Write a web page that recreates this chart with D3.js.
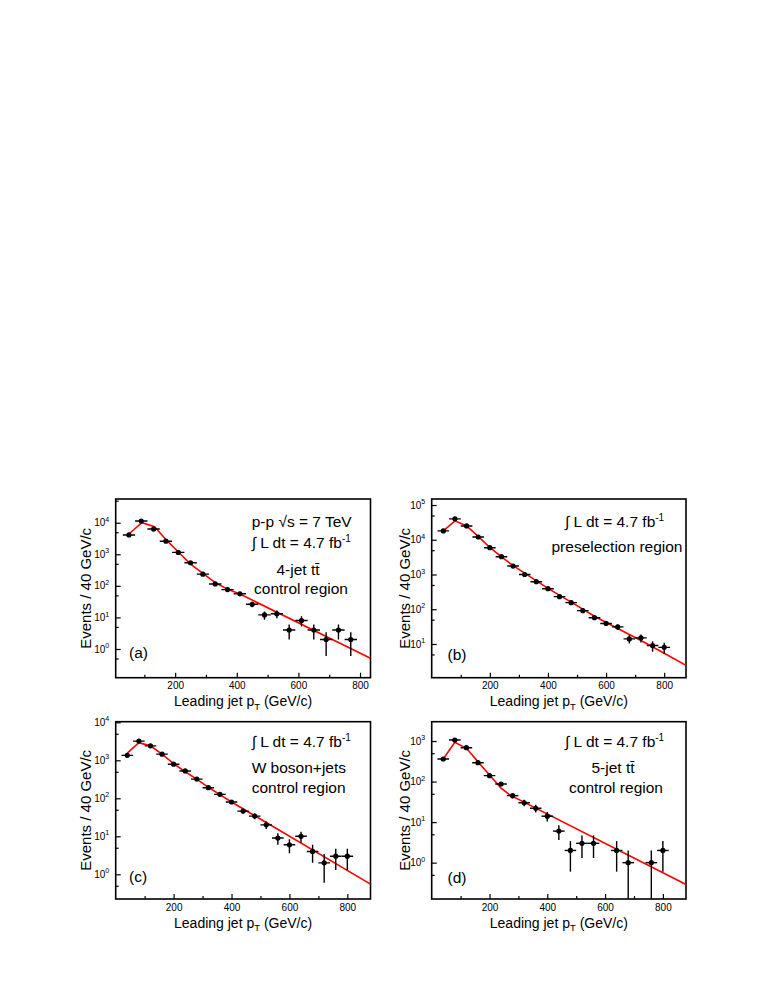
<!DOCTYPE html>
<html>
<head>
<meta charset="utf-8">
<script src="https://cdn.jsdelivr.net/npm/d3@7"></script>
<style>
  body { margin: 0; background: #fff; }
  svg { font-family: "Liberation Sans", Arial, sans-serif; }
</style>
</head>
<body>
<svg width="763" height="987"></svg>
<script>
// ---- values ----
// bin centres (GeV/c)
const xA = [50, 90, 130, 170, 210, 250, 290, 330, 370, 410, 450, 490, 530, 570, 610, 650, 690, 730, 770];
const xB = [40, 80, 120, 160, 200, 240, 280, 320, 360, 400, 440, 480, 520, 560, 600, 640, 680, 720, 760, 800];
const xC = [40, 80, 120, 160, 200, 240, 280, 320, 360, 400, 440, 480, 520, 560, 600, 640, 680, 720, 760, 800];
const xD = [40, 80, 120, 160, 200, 240, 280, 320, 360, 400, 440, 480, 520, 560, 640, 680, 760, 800];

// events per bin and error
const countsA = [4100, 11300, 6300, 2600, 1150, 540, 235, 115, 76, 56, 26, 12, 13, 4, 8, 4, 2, 4, 2];
const errA    = [64, 106, 79, 51, 34, 23, 15, 11, 8.7, 7.5, 5.1, 3.5, 3.6, 2, 2.8, 2, 1.4, 2, 1.4];
const countsB = [18000, 40000, 25000, 12000, 5900, 3250, 1750, 1000, 620, 390, 230, 155, 91, 57, 39, 31, 14, 15, 9, 8];
const errB    = [134, 200, 158, 110, 77, 57, 42, 32, 25, 20, 15, 12.4, 9.5, 7.5, 6.2, 5.6, 3.7, 3.9, 3, 2.8];
const countsC = [1350, 3200, 2400, 1450, 790, 525, 320, 190, 127, 80, 46, 34, 20, 9, 6, 10, 4, 2, 3, 3];
const errC    = [37, 57, 49, 38, 28, 23, 18, 14, 11, 9, 6.8, 5.8, 4.5, 3, 2.4, 3.2, 2, 1.4, 1.7, 1.7];
const countsD = [360, 1060, 685, 292, 140, 87, 45, 30, 22, 14, 6, 2, 3, 3, 2, 1, 1, 2];
const errD    = [19, 33, 26, 17, 12, 9.3, 6.7, 5.5, 4.7, 3.7, 2.4, 1.4, 1.7, 1.7, 1.4, 1, 1, 1.4];

// red prediction curves
const fitXA = [50, 92, 133, 172, 213, 250, 290, 330, 370, 410, 834];
const fitYA = [4400, 10000, 7500, 2800, 1120, 490, 250, 126, 78, 55, 0.51];
const fitXB = [40, 80, 120, 160, 200, 240, 280, 320, 400, 480, 560, 640, 720, 800, 880];
const fitYB = [18000, 35000, 25000, 12500, 6000, 3200, 1800, 1100, 400, 160, 63, 28, 12.6, 5.4, 2.3];
const fitXC = [40, 80, 120, 160, 200, 240, 280, 320, 360, 400, 880];
const fitYC = [1550, 2900, 2400, 1450, 820, 500, 320, 195, 125, 80, 0.55];
const fitXD = [40, 80, 120, 160, 200, 240, 270, 880];
const fitYD = [360, 930, 660, 310, 146, 69, 47, 0.29];

// ticks
const xMajor = [200, 400, 600, 800];
const xMinor = [100, 300, 500, 700];
const yMajorA = [1, 10, 100, 1000, 10000];
const yMajorB = [10, 100, 1000, 10000, 100000];
const yMajorC = [1, 10, 100, 1000, 10000];
const yMajorD = [1, 10, 100, 1000];

// labels ('^' starts a superscript)
const lumi = '\u222B L dt = 4.7 fb^-1';
const notesA = ['p-p \u221As = 7 TeV', lumi, '4-jet tt\u0304', 'control region', '(a)'];
const notesB = [lumi, 'preselection region', '(b)'];
const notesC = [lumi, 'W boson+jets', 'control region', '(c)'];
const notesD = [lumi, '5-jet tt\u0304', 'control region', '(d)'];
const xTitle = 'Leading jet p^T (GeV/c)';
const yTitle = 'Events / 40 GeV/c';
const binHalf = 20;

// ---- layout ----
const panels = [
  {id: 'a', left: 115.7, right: 370.5, top: 499, bottom: 677.7, xDomain: [7, 834], yDomain: [0.123, 56500],
   x: xA, n: countsA, err: errA, fitX: fitXA, fitY: fitYA, yMajor: yMajorA, yTitleX: 91,
   notes: notesA, pos: [[251.7, 527.3, 'start'], [251.7, 548.3, 'start'], [298, 575, 'middle'], [301, 594, 'middle'], [129, 658.3, 'start']]},
  {id: 'b', left: 431.7, right: 686, top: 499, bottom: 677.7, xDomain: [0, 875], yDomain: [1.07, 149000],
   x: xB, n: countsB, err: errB, fitX: fitXB, fitY: fitYB, yMajor: yMajorB, yTitleX: 410,
   notes: notesB, pos: [[565, 526.7, 'start'], [551.5, 551.7, 'start'], [447.5, 660, 'start']]},
  {id: 'c', left: 115.7, right: 370.5, top: 721.7, bottom: 899, xDomain: [0, 880], yDomain: [0.224, 10370],
   x: xC, n: countsC, err: errC, fitX: fitXC, fitY: fitYC, yMajor: yMajorC, yTitleX: 91,
   notes: notesC, pos: [[251.7, 746.7, 'start'], [251.7, 773.3, 'start'], [251.7, 793.3, 'start'], [129, 881.7, 'start']]},
  {id: 'd', left: 431.7, right: 686, top: 721.7, bottom: 899, xDomain: [0, 880], yDomain: [0.127, 2995],
   x: xD, n: countsD, err: errD, fitX: fitXD, fitY: fitYD, yMajor: yMajorD, yTitleX: 410,
   notes: notesD, pos: [[565, 746.7, 'start'], [613, 773.3, 'middle'], [616, 793.3, 'middle'], [447.5, 883, 'start']]}
];

const svg = d3.select('svg');

// write a string with an optional '^' superscript/subscript part
function richText(sel, str, size, supSize, shift) {
  const parts = str.split('^');
  sel.append('tspan').text(parts[0]);
  if (parts.length > 1) {
    const m = parts[1].match(/^(\S+)(.*)$/);
    sel.append('tspan').attr('font-size', supSize).attr('dy', shift).text(m[1]);
    if (m[2]) sel.append('tspan').attr('dy', -shift).text(m[2]);
  }
}

panels.forEach(p => {
  const x = d3.scaleLinear().domain(p.xDomain).range([p.left, p.right]);
  const y = d3.scaleLog().domain(p.yDomain).range([p.bottom, p.top]);
  const g = svg.append('g');

  g.append('clipPath').attr('id', 'clip-' + p.id)
    .append('rect')
      .attr('x', p.left).attr('y', p.top)
      .attr('width', p.right - p.left).attr('height', p.bottom - p.top);

  // x axis, ticks pointing inward
  const xAxisG = g.append('g').attr('transform', `translate(0,${p.bottom})`);
  xAxisG.call(d3.axisBottom(x).tickValues(xMajor).tickSize(-5).tickSizeOuter(0).tickPadding(4));
  xAxisG.append('g')
    .call(d3.axisBottom(x).tickValues(xMinor).tickSize(-3).tickSizeOuter(0).tickFormat(''));
  xAxisG.selectAll('.domain').remove();
  xAxisG.selectAll('line').attr('stroke', '#000').attr('stroke-width', 1.2);
  xAxisG.selectAll('text')
    .attr('font-family', '"Liberation Sans", Arial, sans-serif')
    .attr('font-size', 10).attr('fill', '#000').attr('dy', '0.75em');

  // y axis, majors at decades, minors at 5x
  const yMinor = p.yMajor.map(v => v / 2).concat([p.yMajor[p.yMajor.length - 1] * 5])
    .filter(v => v > p.yDomain[0] && v < p.yDomain[1]);
  const yAxisG = g.append('g').attr('transform', `translate(${p.left},0)`);
  yAxisG.call(d3.axisLeft(y).tickValues(p.yMajor).tickSize(-5).tickSizeOuter(0).tickFormat(''));
  yAxisG.append('g')
    .call(d3.axisLeft(y).tickValues(yMinor).tickSize(-3).tickSizeOuter(0).tickFormat(''));
  yAxisG.selectAll('.domain').remove();
  yAxisG.selectAll('line').attr('stroke', '#000').attr('stroke-width', 1.2);

  p.yMajor.forEach(v => {
    const t = g.append('text')
      .attr('x', p.left - 6.5).attr('y', y(v) + 3.6)
      .attr('text-anchor', 'end').attr('font-size', 10);
    t.append('tspan').text('10');
    t.append('tspan').attr('font-size', 7).attr('dy', -4.5).text(Math.round(Math.log10(v)));
  });

  // frame
  g.append('rect')
    .attr('x', p.left).attr('y', p.top)
    .attr('width', p.right - p.left).attr('height', p.bottom - p.top)
    .attr('fill', 'none').attr('stroke', '#000').attr('stroke-width', 1.6);

  // prediction
  const line = d3.line().x(d => x(d[0])).y(d => y(d[1]));
  g.append('path')
    .datum(d3.zip(p.fitX, p.fitY))
    .attr('clip-path', `url(#clip-${p.id})`)
    .attr('d', line)
    .attr('fill', 'none').attr('stroke', '#ff0000').attr('stroke-width', 1.6);

  // data with error bars
  const pts = g.append('g').attr('clip-path', `url(#clip-${p.id})`)
    .selectAll('g').data(p.x.map((xv, i) => ({x: xv, n: p.n[i], e: p.err[i]})))
    .enter().append('g');
  pts.append('line')
    .attr('x1', d => x(d.x - binHalf)).attr('x2', d => x(d.x + binHalf))
    .attr('y1', d => y(d.n)).attr('y2', d => y(d.n))
    .attr('stroke', '#000').attr('stroke-width', 1.4);
  pts.append('line')
    .attr('x1', d => x(d.x)).attr('x2', d => x(d.x))
    .attr('y1', d => y(Math.max(d.n - d.e, p.yDomain[0])))
    .attr('y2', d => y(d.n + d.e))
    .attr('stroke', '#000').attr('stroke-width', 1.4);
  pts.append('circle')
    .attr('cx', d => x(d.x)).attr('cy', d => y(d.n))
    .attr('r', 2.6).attr('fill', '#000');

  // annotations
  p.notes.forEach((s, i) => {
    const t = g.append('text')
      .attr('x', p.pos[i][0]).attr('y', p.pos[i][1])
      .attr('text-anchor', p.pos[i][2])
      .attr('font-size', 15.5);
    richText(t, s, 15.5, 10, -6);
  });

  // axis titles
  const xt = g.append('text')
    .attr('x', (p.left + p.right) / 2).attr('y', p.bottom + 28.5)
    .attr('text-anchor', 'middle').attr('font-size', 14);
  richText(xt, xTitle, 14, 9.5, 3.5);

  g.append('text')
    .attr('transform', `translate(${p.yTitleX},${(p.top + p.bottom) / 2}) rotate(-90)`)
    .attr('text-anchor', 'middle').attr('font-size', 15)
    .text(yTitle);
});
</script>
</body>
</html>
